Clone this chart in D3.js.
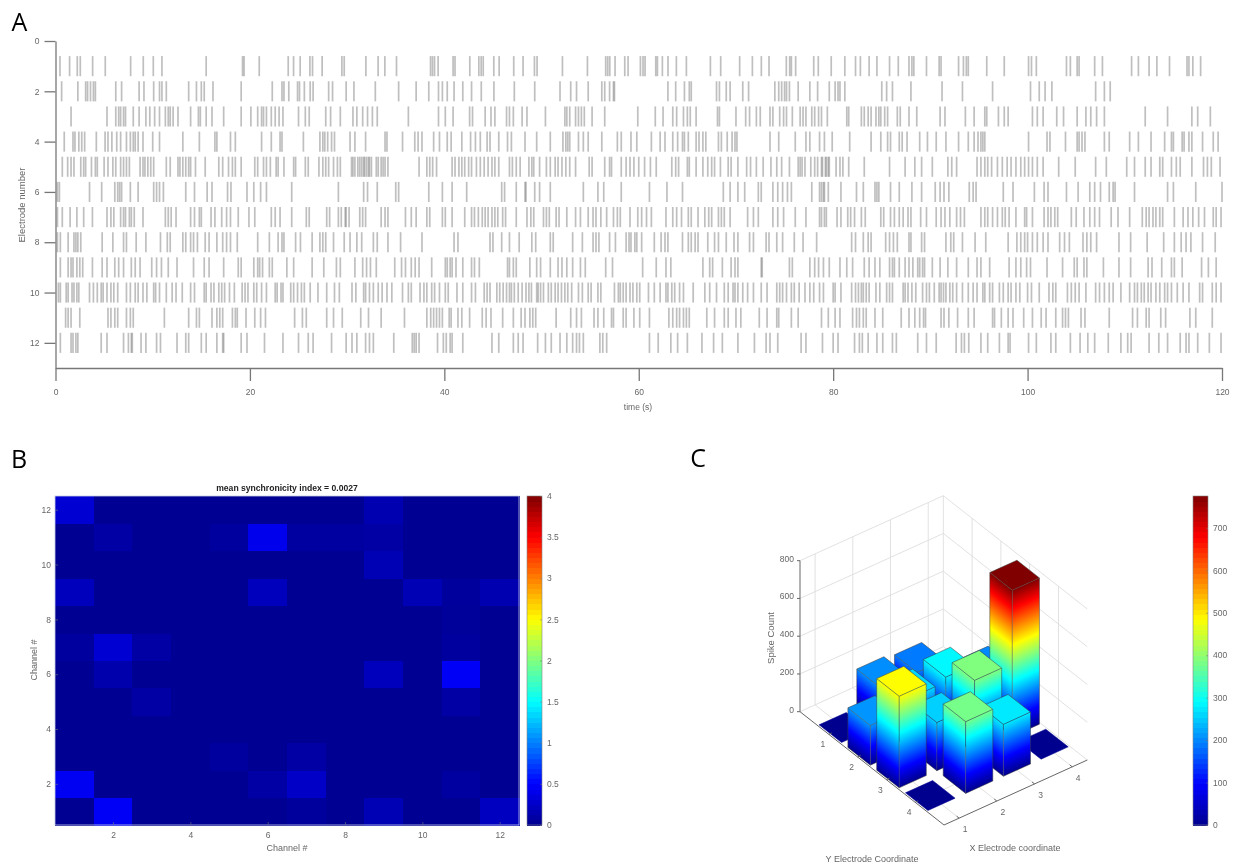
<!DOCTYPE html>
<html><head><meta charset="utf-8">
<script src="https://cdnjs.cloudflare.com/ajax/libs/d3/7.8.5/d3.min.js"></script>
<style>
html,body{margin:0;padding:0;background:#fff}
svg{display:block;filter:blur(0.6px)}
text{font-family:"Liberation Sans",Arial,sans-serif;fill:#666}
</style></head><body><svg id="c" width="1235" height="865"></svg>
<script>
// ---------- Panel A: spike times (s) per electrode ----------
const e1=[.46,1.45,2.24,2.55,3.82,5.12,7.73,9.03,10.06,10.95,15.5,19.24,19.4,20.96,23.94,24.49,25.17,26.17,26.44,27.43,29.46,29.7,31.93,33.19,33.88,35.08,38.58,38.78,38.99,39.36,40.9,41.1,42.62,43.55,43.79,44,45.09,45.64,47.14,48.1,49.27,49.54,52.15,54.72,56.6,56.81,57.02,57.56,58.56,58.9,60.17,60.44,60.65,61.75,61.92,62.43,63.01,63.87,64.9,67.37,68.43,70.38,71.69,72.61,73.4,75.18,75.53,75.7,76.14,78,78.47,79.8,81.2,82.3,82.8,83.7,84.5,85.8,86.7,87.8,88.1,88.3,89.6,90.9,91.1,92.9,93.4,93.7,93.9,95.8,97.6,100.1,100.4,100.9,104,104.4,105.1,105.3,106.9,107.7,110.7,111.4,112.5,113.3,114.6,116.4,116.6,117,117.8];
const e2=[.63,2.3,3.1,3.3,3.6,3.9,4.1,6.2,6.8,8.6,9.1,10.1,10.7,10.95,11.4,13.7,14.5,15,15.3,16.2,19.1,22.3,23.3,23.5,24,24.9,25.1,25.6,26.2,26.5,28.1,28.5,29.9,30.7,32.9,35.3,37.1,38.4,39.4,39.8,40.3,41,41.9,42.8,43.8,45.1,47.2,49.3,51.9,53,53.6,54.8,56.2,56.5,57,57.4,57.5,63,63.8,64.7,65.2,65.4,68,68.3,69,69.4,70.7,71.3,74,74.4,74.7,75,75.2,75.5,76.4,77.6,78.4,79.6,80.2,80.5,80.7,81.2,85,85.5,86.1,88,91.2,93.3,96.4,100.3,101.2,101.8,102.5,107,107.9,108.5];
const e3=[1.6,5.3,6.2,6.5,6.7,7,7.2,8,8.6,9.3,9.7,10.2,10.7,11.3,11.6,11.8,12.1,12.6,13.9,14.7,14.9,15.5,16.1,17.3,19.1,20.1,20.8,21.2,21.4,21.7,22.2,22.6,23,23.4,25,25.7,26.1,27.8,28.3,29.3,30.6,31,31.6,32.1,32.6,33.1,36.3,39.4,40.1,40.9,42.6,42.9,44.2,44.8,45.2,46.4,46.7,47.1,48,48.5,50.4,52.4,52.6,52.9,53.5,53.8,54.1,54.4,55.2,56.5,59.9,61.7,62.5,63.5,63.9,64.6,65,65.3,65.9,68.1,68.3,70,71,71.4,72.1,72.5,73.5,73.8,74.5,74.9,75.2,75.8,76.6,76.9,77.2,77.8,78.1,78.5,78.8,79.4,81.4,81.6,82.9,83.2,83.6,83.9,84.4,84.7,84.9,85.3,85.6,86.6,86.9,87.8,88.6,91,91.5,93.6,94.5,95.6,95.8,97,97.6,98,100.5,101,101.6,103,103.7,105.1,106,106.5,107.1,107.9,112.1,114.4,116.9,117.5,118.8];
const e4=[.9,1.8,2,2.4,2.7,3,4.2,5.1,5.4,5.8,6.3,6.7,7.3,7.7,8,8.2,8.5,9,10,10.7,13.1,14.8,16.4,16.6,18,18.5,21.2,22.2,23.1,23.3,25.5,27.2,27.5,27.7,28,28.4,28.7,30.3,30.8,31.9,33.9,34.1,35.7,36.96,37.3,37.7,38.9,39.5,40.3,40.7,41.8,42.7,43.2,43.7,44.4,44.7,45.6,46.5,46.9,48.3,49.5,50.9,52.2,52.5,52.7,52.9,53.8,54.3,54.8,56.2,57.8,58.2,59.2,59.8,61.3,62.2,62.7,63.5,64,64.5,64.7,65.1,65.9,66.2,66.6,66.9,68.2,68.5,69.1,69.6,69.9,70.1,73.5,74.4,76.1,77.2,77.6,78.6,79.1,79.9,81.7,83.9,84.9,85.6,85.9,86.8,87.1,87.6,88.9,89.7,90.6,91.6,92.9,93.9,94.5,94.9,95.2,95.4,95.6,100.1,102,102.3,103.9,105.1,105.3,105.6,105.9,107.9,108.4,110.5,111.4,112.7,114.1,114.8,115,115.9,116.1,116.6,116.9,118,119.1,119.6];
const e5=[.7,1.25,1.6,1.9,2.6,2.9,3.1,3.7,4.1,4.3,5,5.4,5.9,6.2,6.7,7,7.3,7.6,8.7,9,9.2,9.5,9.8,10.1,11.4,11.8,12.6,12.8,13.1,13.4,13.7,13.9,14.4,15.4,16.8,17.2,17.8,18.2,18.5,19.1,20.5,20.8,21.4,21.7,22.1,22.7,22.9,23.5,24.5,24.7,25.7,26,27.1,27.5,27.8,28.1,28.6,29,29.3,30.45,30.6,30.8,31.1,31.3,31.5,31.7,31.8,32,32.2,32.3,32.5,33,33.2,33.5,33.7,33.9,34.2,37.4,38.2,38.5,38.8,39.2,40.8,41.1,41.5,41.8,42.1,42.5,42.8,43.3,43.7,44.1,44.5,44.9,45.2,45.6,46.7,47,47.4,47.8,48.7,49,49.2,49.8,50.5,50.9,51.4,51.7,52.1,52.5,52.9,53.5,54.9,55.2,56.5,57,57.2,58.2,58.7,59.1,59.5,60,60.6,61.2,61.8,63.4,63.8,64.1,65,65.2,65.9,66.6,67.1,67.5,67.8,68.4,69.2,69.5,70.2,71.1,71.5,72.1,72.8,73.6,74.2,74.7,75.5,76.4,76.6,76.8,77.1,77.7,78.1,78.4,78.8,78.9,79.2,79.3,79.5,79.6,80.3,80.7,81,81.6,83.2,85.8,87.4,88.4,89.1,90.2,91.8,92.2,92.7,94.8,95.2,95.6,95.9,96.3,96.9,97.4,97.9,98.3,98.8,99.3,99.7,100.1,100.5,101,101.6,103.2,104.9,107,108.1,110.2,111,112.1,112.7,113.6,113.9,114.8,115.3,115.7,116.9,118.1,118.5,118.9,119.8];
const e6=[.2,.4,3.5,4.75,6.1,6.4,6.6,6.8,7.7,8.5,10.1,10.4,10.7,11.1,13.4,14.3,15.6,16.1,17.7,18.05,19.7,20.4,21.1,21.7,24.3,29.1,31.7,32.1,33.1,35,35.3,38.4,39.8,40.8,42.3,45.9,46.2,47.4,48.3,48.4,49.3,49.8,50.9,54.3,55.8,56.4,58.2,61.1,62.9,64.5,68.7,69.4,70.2,70.9,72.3,72.6,73.8,74.3,74.8,75.3,75.7,77.8,78.6,78.8,79,79.1,79.5,80.8,82.4,83.1,84.3,84.5,84.7,85.9,86.8,88.1,89.1,90.5,91,91.4,91.9,94,94.4,94.7,97.5,98.5,100.7,101.7,102.1,104,105.2,106.4,106.9,107.5,108.4,108.8,109,111,114.4,115,117.3,120];
const e7=[.2,.7,1.5,2.2,2.9,3.8,5.3,5.7,6,6.7,7,7.2,7.6,7.8,8.1,9,11.3,11.6,11.9,12.4,13.9,14.3,14.8,15,16,16.4,17.1,17.6,18,18.8,19.9,20.5,22.2,22.6,23.1,24.3,25.8,26.1,27.9,28.2,29.1,29.4,29.8,29.9,30.2,31.3,31.6,31.9,33.5,33.9,34.2,36,36.6,37.1,38.2,38.5,39.8,40.1,40.8,42.1,42.8,43.1,43.5,43.9,44.2,44.5,44.9,45.2,45.5,46,46.3,47.4,48.5,48.9,49.2,50.2,50.5,50.8,51.5,51.8,52.6,53.5,54,54.8,55.3,55.6,56.1,56.7,57.4,57.8,58.1,59.1,59.9,60.3,60.8,61.3,62.8,63.5,63.9,64.4,65.1,65.4,66.1,66.8,67.2,67.5,68.2,68.5,68.8,69.4,71.2,71.8,72.3,73.8,74.3,74.9,76.1,77.2,78.6,78.8,79.1,79.3,80.4,80.8,81.5,81.8,82.2,82.9,83.3,84.9,85.2,85.9,86.3,86.8,87.2,87.7,88,89,89.6,90.6,91.1,91.5,92,92.7,93.1,93.5,95.2,95.6,95.9,96.4,96.9,97.4,97.7,98.1,98.8,99.7,99.9,100.5,101.7,102.1,102.4,102.8,103.1,104.5,105,105.8,106.4,106.9,107.4,108.6,109.3,110.5,111.8,112.2,112.5,112.9,113.2,113.6,113.9,115.1,116,116.5,117,117.6,118.2,119.1,119.4,119.9];
const e8=[.2,.5,1.3,1.9,2.1,2.3,2.6,4.8,5.9,7,7.3,8.3,9.3,10.8,11.5,11.8,13.1,13.4,13.9,14.2,14.6,15.4,15.8,16.6,17.2,17.6,18,18.7,20.8,22,22.9,23.3,23.5,24.7,25.2,26.4,27.2,27.5,27.8,28.6,29.7,30.3,31,31.5,32.7,33.1,34.2,35.5,37.7,41,41.4,44.7,45,45.9,46.7,47.7,49,49.4,50.9,51.2,53.2,54.2,55.3,55.6,55.9,57,57.6,58.7,59,59.2,59.6,59.8,60.3,61.6,62.3,62.7,63,64.5,65.1,65.4,65.8,66.1,67.1,67.8,68.2,69,69.8,70.2,71.4,71.8,73.1,73.4,74.2,74.8,76,76.9,78.3,81.9,82.3,83.1,83.6,83.9,85.4,85.8,86.2,86.6,87.8,88,89.1,89.4,91.6,92.1,92.4,93.3,94.6,95.7,98,98.9,99.3,99.7,100,100.5,101,101.6,102.1,103.3,103.8,104.3,105.7,106.1,106.5,107.1,109.4,110.6,112.3,114,115.1,115.8,116.3,116.8,118,119.3];
const e9=[.5,1.3,1.6,1.8,2.2,2.5,2.8,3.8,4.8,5.3,6.1,6.5,7,7.8,8.2,8.7,9.9,10.4,10.9,11.6,12.5,14.2,15.3,15.8,17.3,18.8,19.1,20.4,20.8,21,21.3,22,22.3,23.8,24.5,26.4,27.6,28.9,29.3,30.8,31.6,32,32.4,33,34.9,35.6,36,36.6,37,37.4,38.7,40.1,40.3,40.6,40.8,41.2,41.9,42.8,43.1,43.6,46.5,46.7,47.1,47.4,48.8,49.5,49.9,50.9,51.7,52.1,52.6,53.2,54,54.5,56.6,57.3,60.4,61.8,62.8,63.3,66.6,67.3,67.6,68.6,69.5,69.9,70.2,72.6,72.7,75.5,75.8,77.6,78.1,78.5,79,79.6,80.7,81.4,82,83.2,83.7,84.3,84.8,85.8,86.1,86.3,86.8,87.4,87.8,88.2,88.7,88.9,89.2,89.4,90.2,91,91.8,92.7,93.9,94.8,95.2,96.1,98.1,98.8,99.3,99.9,100.3,102,103.6,104.8,105.1,105.8,106.1,107.8,109.4,110.6,112.4,112.8,113.8,114.8,115.1,115.9,117.9,118.6,119.4];
const e10=[.3,.5,1.1,1.3,1.7,1.9,2.2,2.4,3.5,3.9,4.3,4.7,4.9,5.3,5.7,6,6.4,7.3,7.7,8.2,8.5,9,9.4,10.1,10.3,10.7,11.4,12,12.4,13.04,13.9,14.3,15.3,15.5,16,16.3,16.8,17.1,17.4,17.9,18.4,19.2,19.5,19.8,20.4,20.7,21.2,21.7,22.6,22.8,23.2,23.4,24.2,24.5,24.9,25.3,25.6,26.2,27,27.9,28.7,29.2,30.5,30.9,31.7,31.9,32.3,32.7,33.2,33.6,34.1,34.6,35.7,36.3,36.6,37.5,37.9,38.2,38.7,39,39.5,40.1,40.4,41.3,41.9,42.8,43.2,44.1,44.4,44.7,45.4,45.7,46.05,46.4,46.7,46.9,47.2,47.6,48,48.4,48.7,48.96,49.5,49.65,49.9,50.2,50.7,51,51.4,51.7,52.05,52.4,52.7,53.1,53.8,54.2,54.8,55.1,55.8,56.1,57.5,57.9,58.1,58.4,58.7,59.1,59.4,59.8,60.1,61,61.6,62.2,62.8,63,63.4,63.7,64.2,64.6,65.6,66.8,67.3,68,68.8,69.2,69.7,69.9,70.2,70.7,71.2,71.8,72.6,73.2,74.2,74.5,74.8,75.2,75.7,76,76.5,77.1,77.6,78,78.6,79,80,80.2,80.8,81.9,82.3,82.6,82.9,83.1,83.4,83.7,84.4,84.8,85.5,85.8,86.1,87.2,87.4,87.7,88.1,88.5,89.2,89.6,89.9,90.4,90.9,91.1,91.35,91.6,92,92.3,92.7,93.3,93.9,94.4,94.8,95.4,95.6,96.1,96.4,97.1,97.5,98,98.3,98.8,99.2,100,100.4,101.2,102.2,102.6,102.9,104.1,104.5,104.9,105.3,106,107,107.4,107.9,108.4,108.8,109.6,110.5,111,111.3,111.7,112,112.4,112.7,113.2,113.6,114.1,114.4,114.8,115.4,116,116.6,117.7,118,119,119.4,119.9];
const e11=[1.04,1.3,1.6,2.5,5.4,5.7,6.1,6.4,7.3,7.7,8,11.2,13.7,14.5,14.8,16.1,16.6,16.9,17.2,18.2,18.5,18.7,19.6,20.5,21.1,21.6,24.6,25.4,25.8,27.9,28.6,29.5,31.4,32.2,33.5,35.9,38.2,38.6,38.9,39.2,39.5,39.8,40.5,40.7,41.4,41.8,42.6,43.9,44.3,44.8,46,47.1,47.9,48.3,48.8,49.1,49.4,51.5,53,53.6,54.1,55.4,55.8,56.4,57.2,57.4,58.4,58.7,59.5,60.1,61.1,63.1,63.5,63.9,64.2,64.6,64.9,65.2,67,67.8,68.8,69.2,70,70.5,72.4,73.2,74.2,74.4,75.7,76.4,78.8,79.5,80.2,80.7,82,82.4,82.7,83.1,83.4,84.3,85.1,87,87.8,88.4,88.9,89.3,89.5,91.1,91.4,91.9,92.8,93.9,94.5,96.4,96.6,97.3,98,98.5,99.6,100.5,101.4,101.9,102.9,103.6,103.9,104.2,105.5,105.9,108.4,110.8,111.3,112.2,112.5,113.7,114.2,116.7,117.3,119];
const e12=[.5,1.6,1.8,2.1,2.3,4.7,5.3,7,7.5,7.8,7.9,8.8,9.3,10.4,10.8,12.5,13.4,13.7,15,15.5,16.6,17.2,17.3,19.1,19.7,21.5,23.4,25,26,26.5,28.4,29.9,30.5,31,31.9,32.3,32.7,34.8,36.7,36.9,37.1,37.4,39.3,39.9,40.2,40.6,40.8,41.9,44.9,45.6,47.1,47.6,48.1,49.6,50.4,51,51.9,52.6,53.2,53.6,53.9,54.3,56,56.3,56.7,61.1,62,63.3,64,65,66.5,67.7,68.6,70.2,71.9,73.1,73.5,74.3,76.7,77.2,78.9,80,80.5,82.2,82.7,83,83.6,84.5,85.1,86.1,86.5,88.7,89.6,90.6,92.65,93.2,93.5,93.95,95.2,95.9,97.1,98,98.2,100.1,100.9,102.4,102.9,104.4,105.4,106.2,106.9,108.3,109.6,110.3,110.65,112.5,113.5,114.4,115.7,116.3,116.6,117.5,118.7,119.9];
const spikeRows=[e1,e2,e3,e4,e5,e6,e7,e8,e9,e10,e11,e12];
const aXTicks=[0,20,40,60,80,100,120];
const aYTicks=[0,2,4,6,8,10,12];

// ---------- Panel B: synchronicity matrix (rows channel 1..12) ----------
const channels=[1,2,3,4,5,6,7,8,9,10,11,12];
const sync1=[.02,.46,.02,.02,.02,.02,.06,.02,.17,.02,.02,.22];
const sync2=[.44,.02,.02,.02,.02,.1,.25,.02,.02,.02,.08,.02];
const sync3=[.02,.02,.02,.02,.07,.02,.1,.02,.02,.02,.02,.02];
const sync4=[.02,.02,.02,.02,.02,.02,.02,.02,.02,.02,.02,.02];
const sync5=[.02,.02,.1,.02,.02,.02,.02,.02,.02,.02,.1,.02];
const sync6=[.02,.13,.02,.02,.02,.02,.02,.02,.2,.02,.46,.02];
const sync7=[.07,.3,.1,.02,.02,.02,.02,.02,.02,.02,.07,.02];
const sync8=[.02,.02,.02,.02,.02,.02,.02,.02,.02,.02,.05,.02];
const sync9=[.2,.02,.02,.02,.02,.2,.02,.02,.02,.17,.06,.15];
const sync10=[.02,.02,.02,.02,.02,.02,.02,.02,.17,.02,.02,.02];
const sync11=[.02,.1,.02,.02,.07,.42,.08,.08,.1,.02,.02,.02];
const sync12=[.3,.02,.02,.02,.02,.02,.02,.02,.15,.02,.02,.02];
const syncRows=[sync1,sync2,sync3,sync4,sync5,sync6,sync7,sync8,sync9,sync10,sync11,sync12];
const bTicks=[2,4,6,8,10,12];
const bBarTicks=[0,.5,1,1.5,2,2.5,3,3.5,4];

// ---------- Panel C: spike count per electrode ----------
const gridX=[4,4,4,4,3,3,3,3,2,2,2,2,1,1,1,1];
const gridY=[1,2,3,4,1,2,3,4,1,2,3,4,1,2,3,4];
const spikeCount=[0,200,775,0,190,285,388,275,205,260,255,380,0,210,485,0];
const cZTicks=[0,200,400,600,800];
const cTicks=[1,2,3,4];
const cBarTicks=[0,100,200,300,400,500,600,700];
const cMax=775;

// ---------- helpers ----------
const jetStops=[0,.125,.375,.625,.875,1];
const jet=d3.scaleLinear().domain(jetStops)
  .range(["#00008f","#0000ff","#00ffff","#ffff00","#ff0000","#800000"]).clamp(true);
const svg=d3.select("#c");
const defs=svg.append("defs");
const INK="#666";

function label(t,x,y,size,opts={}){
  const s=svg.append("text").text(t).attr("x",x).attr("y",y).attr("font-size",size)
    .attr("text-anchor",opts.anchor||"middle");
  if(opts.rot) s.attr("transform",`rotate(${opts.rot} ${x} ${y})`);
  if(opts.bold) s.attr("font-weight","bold");
  if(opts.fill) s.style("fill",opts.fill);
  if(opts.family) s.style("font-family",opts.family);
  return s;
}
function styleAxis(g,w,fs){
  g.selectAll("path,line").attr("stroke","#777").attr("stroke-width",w);
  g.selectAll("text").style("fill",INK).attr("font-size",fs||8.5);
}

[["A",19.5,31],["B",19,468],["C",698,467]].forEach(d=>
  label(d[0],d[1],d[2],25,{fill:"#000",family:"'Open Sans',sans-serif"}));

// ---------- Panel A ----------
const ax=d3.scaleLinear().domain([0,120]).range([55.5,1222]);
const ay=d3.scaleLinear().domain([0,13]).range([41,368]);
const rows=svg.append("g").attr("stroke","#666").attr("stroke-width",1.7).attr("stroke-opacity",.42);
spikeRows.forEach((arr,i)=>{
  rows.selectAll(null).data(arr).join("line")
    .attr("x1",d=>ax(d)).attr("x2",d=>ax(d))
    .attr("y1",ay(i+1-.4)).attr("y2",ay(i+1+.4));
});
const axA=svg.append("g").attr("transform","translate(0,368)")
  .call(d3.axisBottom(ax).tickValues(aXTicks).tickSize(13).tickSizeOuter(0).tickPadding(8));
styleAxis(axA,1.3);
const ayA=svg.append("g").attr("transform","translate(55.5,0)")
  .call(d3.axisLeft(ay).tickValues(aYTicks).tickSize(11).tickSizeOuter(0).tickPadding(5));
styleAxis(ayA,1.3);
label("time (s)",638,410,8.5);
label("Electrode number",25,205,9.5,{rot:-90});

// ---------- Panel B ----------
const bx=d3.scaleLinear().domain([.5,12.5]).range([55,519]);
const by=d3.scaleLinear().domain([.5,12.5]).range([825,496]);
const bc=d3.scaleLinear().domain([0,4]).range([0,1]);
syncRows.forEach((r,i)=>{
  svg.append("g").attr("shape-rendering","crispEdges").selectAll("rect").data(r).join("rect")
    .attr("x",(d,j)=>bx(channels[j]-.5)).attr("width",bx(2)-bx(1)+.5)
    .attr("y",by(channels[i]+.5)).attr("height",by(1)-by(2)+.5)
    .attr("fill",d=>jet(bc(d)));
});
svg.append("rect").attr("x",55).attr("y",496).attr("width",464).attr("height",329)
  .attr("fill","none").attr("stroke","#c6cbe0").attr("stroke-width",.8);
const bxA=svg.append("g").attr("transform","translate(0,825)")
  .call(d3.axisBottom(bx).tickValues(bTicks).tickSize(-3).tickSizeOuter(0).tickPadding(7));
styleAxis(bxA,.6); bxA.select("path").remove();
const byA=svg.append("g").attr("transform","translate(55,0)")
  .call(d3.axisLeft(by).tickValues(bTicks).tickSize(-3).tickSizeOuter(0).tickPadding(4));
styleAxis(byA,.6); byA.select("path").remove();
label("Channel #",287,851,9);
label("Channel #",37,660,9,{rot:-90});
label("mean synchronicity index = 0.0027",287,491,8.6,{bold:true,fill:"#222"});

function colorbar(x0,w,dom,ticks,fmt){
  const y=d3.scaleLinear().domain(dom).range([825,496]);
  const levels=d3.range(64);
  svg.append("g").attr("shape-rendering","crispEdges").selectAll("rect").data(levels).join("rect")
    .attr("x",x0).attr("width",w)
    .attr("y",d=>y(dom[1]*(d+1)/64)).attr("height",d=>y(dom[1]*d/64)-y(dom[1]*(d+1)/64)+.5)
    .attr("fill",d=>jet((d+.5)/64));
  svg.append("rect").attr("x",x0).attr("y",496).attr("width",w).attr("height",329)
    .attr("fill","none").attr("stroke","#888").attr("stroke-width",.6);
  const g=svg.append("g").attr("transform",`translate(${x0+w},0)`)
    .call(d3.axisRight(y).tickValues(ticks).tickSize(-2).tickSizeOuter(0).tickPadding(5).tickFormat(fmt));
  styleAxis(g,.5); g.select("path").remove();
}
colorbar(527,15,[0,4],bBarTicks,d3.format("~g"));
colorbar(1193,15,[0,cMax],cBarTicks,d3.format("d"));

// ---------- Panel C: orthographic 3D ----------
const corner={L:[800,711.7],F:[944,825],R:[1087.3,760]};
const fx=d3.scaleLinear().domain([.6,4.4]).range([0,1]);   // along F->R
const fy=d3.scaleLinear().domain([0,5]).range([0,1]);      // along L->F
const fz=d3.scaleLinear().domain([0,800]).range([0,151]);
function P(x,y,z){
  const a=fy(y),b=fx(x);
  return [corner.L[0]+a*(corner.F[0]-corner.L[0])+b*(corner.R[0]-corner.F[0]),
          corner.L[1]+a*(corner.F[1]-corner.L[1])+b*(corner.R[1]-corner.F[1])-fz(z)];
}
const line=d3.line();
const walls=svg.append("g").attr("fill","none").attr("stroke","#dedede").attr("stroke-width",.9);
function seg(g,a,b){g.append("path").attr("d",line([a,b]));}
cZTicks.forEach(z=>{
  seg(walls,P(.6,0,z),P(4.4,0,z));
  seg(walls,P(4.4,0,z),P(4.4,5,z));
});
cTicks.forEach(t=>{
  seg(walls,P(t,0,0),P(t,0,800));
  seg(walls,P(4.4,t,0),P(4.4,t,800));
  seg(walls,P(t,0,0),P(t,5,0));
  seg(walls,P(.6,t,0),P(4.4,t,0));
});
seg(walls,P(4.4,0,0),P(4.4,0,800));

// jet gradient whose iso-lines run along a face's bottom edge
let gradId=0;
function faceGradient(a,b){
  const p=P(a[0],a[1],0),q=P(b[0],b[1],0),u=P(a[0],a[1],cMax);
  const ex=q[0]-p[0],ey=q[1]-p[1],len=Math.hypot(ex,ey);
  const nx=-ey/len,ny=ex/len;
  const k=(u[0]-p[0])*nx+(u[1]-p[1])*ny;
  const id="g"+(gradId++);
  const lg=defs.append("linearGradient").attr("id",id).attr("gradientUnits","userSpaceOnUse")
    .attr("x1",p[0]).attr("y1",p[1]).attr("x2",p[0]+nx*k).attr("y2",p[1]+ny*k);
  jetStops.forEach(s=>lg.append("stop").attr("offset",s).attr("stop-color",jet(s)));
  return `url(#${id})`;
}
const hx=.36,hy=.39;
const bars=gridX.map((x,i)=>({x,y:gridY[i],z:spikeCount[i]}))
  .sort((p,q)=>d3.descending(p.x,q.x)||d3.ascending(p.y,q.y));
const gb=svg.append("g");
const EDGE="#3c3c3c";
bars.forEach(b=>{
  const x0=b.x-hx,x1=b.x+hx,y0=b.y-hy,y1=b.y+hy,g=gb.append("g");
  const topPts=[P(x0,y0,b.z),P(x1,y0,b.z),P(x1,y1,b.z),P(x0,y1,b.z)];
  if(b.z>0){
    [[[x0,y0],[x0,y1]],[[x0,y1],[x1,y1]]].forEach(f=>{
      g.append("path").attr("d",line([P(f[0][0],f[0][1],0),P(f[1][0],f[1][1],0),P(f[1][0],f[1][1],b.z),P(f[0][0],f[0][1],b.z)])+"Z")
       .attr("fill",faceGradient(f[0],f[1]));
    });
    [[P(x0,y0,0),P(x0,y0,b.z)],[P(x0,y1,0),P(x0,y1,b.z)],[P(x1,y1,0),P(x1,y1,b.z)],
     [P(x0,y0,0),P(x0,y1,0)],[P(x0,y1,0),P(x1,y1,0)]].forEach(s=>{
      g.append("path").attr("d",line(s)).attr("stroke",EDGE).attr("stroke-width",.7).attr("stroke-opacity",.7);
    });
  }
  g.append("path").attr("d",line(topPts)+"Z").attr("fill",jet(b.z/cMax))
    .attr("stroke",b.z>0?EDGE:jet(0)).attr("stroke-width",.7).attr("stroke-opacity",.75);
});

const axC=svg.append("g").attr("fill","none").attr("stroke","#666").attr("stroke-width",1);
seg(axC,P(.6,0,0),P(.6,0,800));
seg(axC,P(.6,0,0),P(.6,5,0));
seg(axC,P(.6,5,0),P(4.4,5,0));
cZTicks.forEach(z=>{
  const p=P(.6,0,z);
  seg(axC,[p[0],p[1]],[p[0]-3,p[1]]);
  label(d3.format("d")(z),p[0]-6,p[1]+1,8.5,{anchor:"end"});
});
cTicks.forEach(t=>{
  const p=P(.6,t,0); seg(axC,p,[p[0]+3,p[1]-1.5]);
  label(t,p[0]-6,p[1]+13,8.5);
  const q=P(t,5,0); seg(axC,q,[q[0]-2.5,q[1]-2]);
  label(t,q[0]+6,q[1]+14,8.5);
});
label("Spike Count",774,638,9.5,{rot:-90});
label("X Electrode coordinate",1015,851,9);
label("Y Electrode Coordinate",872,862,9);
</script></body></html>
